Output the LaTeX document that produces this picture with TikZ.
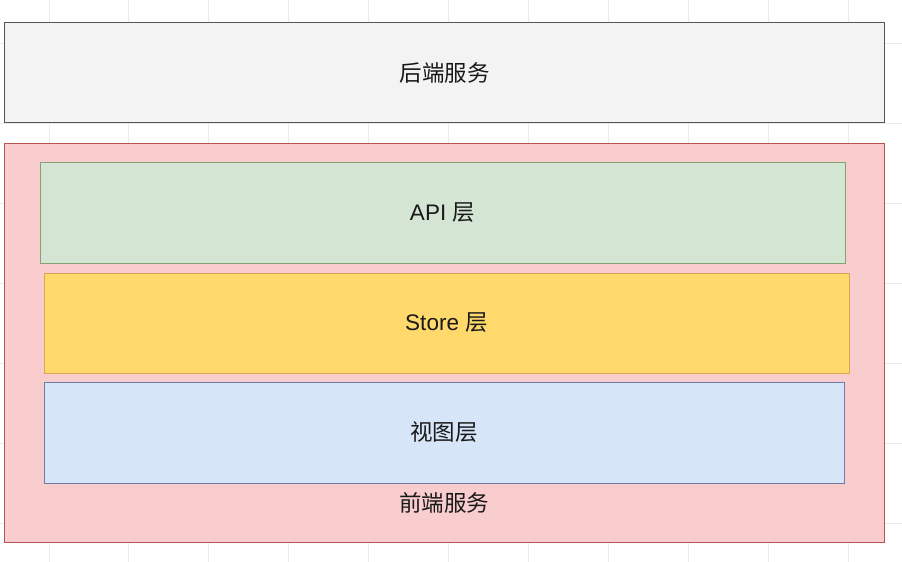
\documentclass[tikz,border=0pt]{standalone}
\usepackage{fontspec}
\setmainfont{Liberation Sans}
\newfontfamily\cjk{Noto Sans CJK SC}
\usetikzlibrary{positioning}
\definecolor{gridgray}{HTML}{EBEBEB}
\definecolor{backfill}{HTML}{F3F3F4}
\definecolor{backline}{HTML}{555555}
\definecolor{frontfill}{HTML}{F9CDCD}
\definecolor{frontline}{HTML}{B85450}
\definecolor{apifill}{HTML}{D5E5D4}
\definecolor{apiline}{HTML}{82A372}
\definecolor{storefill}{HTML}{FFD96C}
\definecolor{storeline}{HTML}{D6A656}
\definecolor{viewfill}{HTML}{D6E5F8}
\definecolor{viewline}{HTML}{6C7EA8}

\begin{document}
\begin{tikzpicture}[
  x=1pt, y=-1pt,
  layerbox/.style={rectangle, inner sep=0pt, line width=1pt, text=black!90, font=\fontsize{22.5}{26}\selectfont},
  gridline/.style={draw=gridgray, line width=0.8pt}
]
  \useasboundingbox (0,0) rectangle (902,562);
  \fill[white] (0,0) rectangle (902,562);

  % Background grid
  \foreach \gx in {49,128,208,288,368,448,528,608,688,768,848}
    \draw[gridline] (\gx,0) -- (\gx,562);
  \foreach \gy in {43,123,203,283,363,443,523}
    \draw[gridline] (0,\gy) -- (902,\gy);

  % Backend
  \node[layerbox, draw=backline, fill=backfill, line width=1.5pt, minimum width=880pt, minimum height=100pt] (backend) at (444.5,72.5) {\cjk 后端服务};

  % Frontend
  \node[layerbox, draw=frontline, fill=frontfill, minimum width=880pt, minimum height=399pt] (frontend) at (444,342.5) {};
  \node[layerbox] (frontlabel) at (444,503) {\cjk 前端服务};

  % Layers
  \node[layerbox, draw=apiline, fill=apifill, minimum width=805pt, minimum height=101pt] (api) at (442.5,212.5) {API {\cjk 层}};
  \node[layerbox, draw=storeline, fill=storefill, minimum width=805pt, minimum height=100pt] (store) at (446.5,323) {Store {\cjk 层}};
  \node[layerbox, draw=viewline, fill=viewfill, minimum width=800pt, minimum height=101pt] (view) at (444,432.5) {\cjk 视图层};

\end{tikzpicture}
\end{document}
